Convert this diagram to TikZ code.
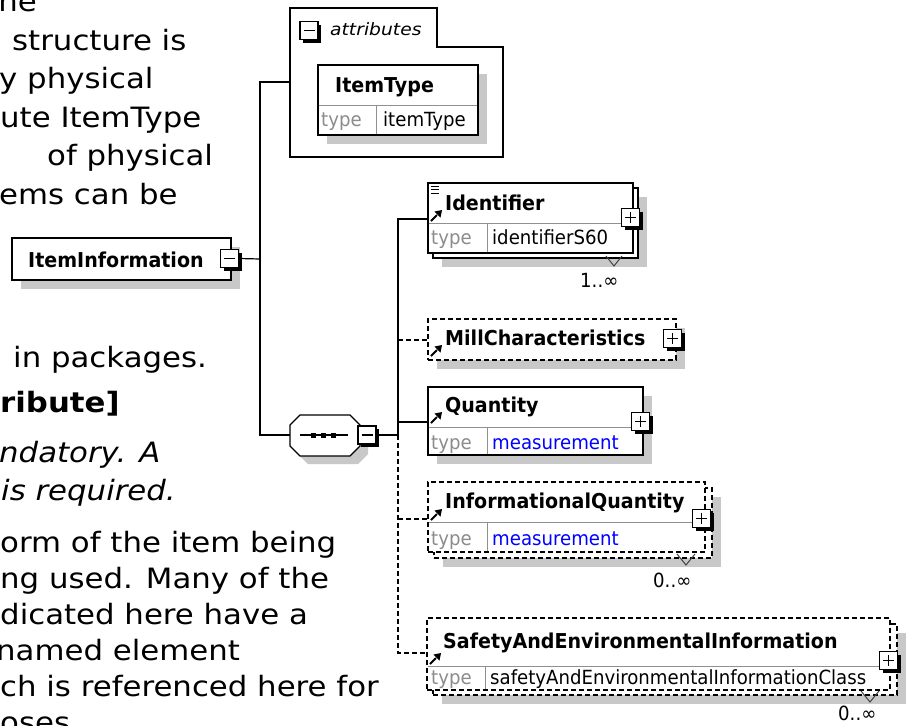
\documentclass[tikz,border=0pt]{standalone}
\usepackage{fontspec}
\setmainfont{DejaVu Sans}
\newfontfamily\pgfnt[FakeStretch=1.1]{DejaVu Sans}
\newfontfamily\dgfnt[FakeStretch=0.93]{DejaVu Sans}
\usetikzlibrary{shadows}
\definecolor{shd}{HTML}{C8C8C8}
\definecolor{typegray}{HTML}{8C8C8C}
\definecolor{divgray}{HTML}{909090}
\definecolor{mblue}{HTML}{0000FF}
\tikzset{
  pagetxt/.style={anchor=base west, inner sep=0pt, font=\pgfnt\fontsize{28}{34}\selectfont},
  pagebold/.style={pagetxt, font=\pgfnt\bfseries\fontsize{28}{34}\selectfont},
  pageit/.style={pagetxt, font=\pgfnt\itshape\fontsize{28}{34}\selectfont},
  hd/.style={anchor=base west, inner sep=0pt, font=\dgfnt\bfseries\fontsize{20.5}{24}\selectfont},
  tv/.style={anchor=base west, inner sep=0pt, font=\dgfnt\fontsize{19.5}{23}\selectfont},
  tl/.style={tv, text=typegray},
  tb/.style={tv, text=mblue},
  ebox/.style={draw=black, line width=1.2pt, fill=white, anchor=north west, inner sep=0pt, outer sep=0pt},
  eshd/.style={general shadow={fill=shd, draw=none, shadow xshift=9pt, shadow yshift=-9pt}},
  dsh/.style={dash pattern=on 5pt off 3pt},
  conn/.style={draw=black, line width=1.2pt},
  divl/.style={draw=divgray, line width=0.9pt},
  vmark/.style={draw=black!75, line width=1pt},
  pmbox/.style={draw=black, line width=1.1pt, fill=white, minimum size=18pt, inner sep=0pt,
    general shadow={fill=black, draw=none, shadow xshift=3pt, shadow yshift=-3pt}},
  pmminus/.style={pmbox, path picture={\draw[line width=1.5pt] ([xshift=3.5pt]path picture bounding box.west) -- ([xshift=-3.5pt]path picture bounding box.east);}},
  pmplus/.style={pmbox, path picture={\draw[line width=1.5pt] ([xshift=3.5pt]path picture bounding box.west) -- ([xshift=-3.5pt]path picture bounding box.east); \draw[line width=1.5pt] ([yshift=-3.5pt]path picture bounding box.north) -- ([yshift=3.5pt]path picture bounding box.south);}},
  refarrow/.pic={\draw[line width=2pt] (0,0) -- (6,-6); \fill (11,-11) -- (3.5,-9.5) -- (9.5,-3.5) -- cycle;},
}
\begin{document}
\begin{tikzpicture}[x=1pt,y=-1pt]
\useasboundingbox (0,0) rectangle (922,726);
\clip (0,0) rectangle (922,726);
\fill[white] (0,0) rectangle (922,726);

% ---------- page text behind the diagram ----------
\node[pagetxt, anchor=base east] (t1) at (37,11.5) {the};
\node[pagetxt] (t2) at (12,50) {structure is};
\node[pagetxt] (t3) at (-1,88.5) {y physical};
\node[pagetxt] (t4) at (0,127) {ute ItemType};
\node[pagetxt] (t5) at (47,165.5) {of physical};
\node[pagetxt] (t6) at (-1,204) {ems can be};
\node[pagetxt] (t7) at (13,367) {in packages.};
\node[pagebold] (t8) at (0,412) {ribute]};
\node[pageit] (t9) at (-1,462) {ndatory. A};
\node[pageit] (t10) at (1,500) {is required.};
\node[pagetxt] (t11) at (0,552) {orm of the item being};
\node[pagetxt] (t12) at (0,588) {ng used. Many of the};
\node[pagetxt] (t13) at (0,624) {dicated here have a};
\node[pagetxt] (t14) at (-4,660) {named element};
\node[pagetxt] (t15) at (0,696) {ch is referenced here for};
\node[pagetxt] (t16) at (0,732) {oses};

% ---------- connector junctions ----------
\coordinate (jA) at (260,259);
\coordinate (jAtop) at (260,82);
\coordinate (jAbot) at (260,435);
\coordinate (attrL) at (290,82);
\coordinate (seqL) at (290,435);
\coordinate (jB) at (398,435);
\coordinate (idin) at (428,219);
\coordinate (mcin) at (428,340);
\coordinate (qtin) at (428,422);
\coordinate (iqin) at (428,519);
\coordinate (sfin) at (427,653);

% ---------- ItemInformation ----------
\node[ebox, eshd, minimum width=219pt, minimum height=42pt] (iibox) at (12,238) {};
\node[hd] (iitxt) at (28,267) {ItemInformation};
\node[pmminus] (iiminus) at (229.5,258.5) {};

% connectors from ItemInformation
\draw[conn] (iiminus.east) -- (jA);
\draw[conn] (attrL) -- (jAtop) -- (jAbot) -- (seqL);

% ---------- attributes group ----------
\draw[conn, fill=white] (290,157) -- (290,8) -- (437,8) -- (437,47) -- (503,47) -- (503,157) -- cycle;
\node[pmminus] (attrminus) at (309,30.5) {};
\node[anchor=base west, inner sep=0pt, font=\pgfnt\itshape\fontsize{17}{20}\selectfont] (attrtxt) at (330,35) {attributes};
\node[ebox, eshd, minimum width=160pt, minimum height=70pt] (itbox) at (318,65) {};
\draw[divl] (318.6,105) -- (477.4,105);
\draw[divl] (376,105) -- (376,134.4);
\node[hd] (ittxt) at (335,92) {ItemType};
\node[tl] (ittype) at (321,126) {type};
\node[tv] (itval) at (383,126) {itemType};

% ---------- sequence compositor ----------
\fill[shd] (298,433) -- (308,423) -- (358,423) -- (368,433) -- (368,454) -- (358,464) -- (308,464) -- (298,454) -- cycle;
\draw[conn, fill=white] (290,425) -- (300,415) -- (350,415) -- (360,425) -- (360,446) -- (350,456) -- (300,456) -- (290,446) -- cycle;
\draw[line width=1.2pt] (300,435) -- (348,435);
\fill (310.5,432.5) rectangle (315.5,437.5);
\fill (320.5,432.5) rectangle (325.5,437.5);
\fill (330.5,432.5) rectangle (335.5,437.5);
\node[pmminus] (seqminus) at (367,435) {};

% ---------- connectors to children ----------
\draw[conn] (seqminus.east) -- (jB);
\draw[conn] (jB) -- (jB |- idin) -- (idin);
\draw[conn, dsh] (jB) -- (jB |- sfin) -- (sfin);
\draw[conn, dsh] (jB |- mcin) -- (mcin);
\draw[conn] (jB |- qtin) -- (qtin);
\draw[conn, dsh] (jB |- iqin) -- (iqin);

% ---------- Identifier ----------
\node[ebox, eshd, minimum width=205pt, minimum height=70pt] (idback) at (433,188) {};
\node[ebox, minimum width=205pt, minimum height=70pt] (idbox) at (428,183) {};
\draw[divl] (428.6,223) -- (632.4,223);
\draw[divl] (487,223) -- (487,252.4);
\draw[line width=0.8pt] (431,186) -- (439,186) (431,189.5) -- (439,189.5) (431,193) -- (439,193);
\pic at (431,221) {refarrow};
\node[hd] (idtxt) at (445,210) {Identifier};
\node[tl] (idtype) at (431,244) {type};
\node[tv] (idval) at (492,244) {identifierS60};
\node[pmplus] (idplus) at (630.5,217.5) {};
\draw[vmark] (606,256) -- (614,266) -- (622,256);
\node[tv] (idcard) at (580,287) {1..∞};

% ---------- MillCharacteristics ----------
\node[ebox, eshd, dsh, minimum width=248pt, minimum height=41pt] (mcbox) at (428,319) {};
\pic at (431,356) {refarrow};
\node[hd] (mctxt) at (445,345) {MillCharacteristics};
\node[pmplus] (mcplus) at (672.5,338.5) {};

% ---------- Quantity ----------
\node[ebox, eshd, minimum width=215pt, minimum height=68pt] (qtbox) at (428,387) {};
\draw[divl] (428.6,427) -- (642.4,427);
\draw[divl] (487,427) -- (487,454.4);
\pic at (431,423) {refarrow};
\node[hd] (qttxt) at (445,412) {Quantity};
\node[tl] (qttype) at (431,449) {type};
\node[tb] (qtval) at (492,449) {measurement};
\node[pmplus] (qtplus) at (640.5,421.5) {};

% ---------- InformationalQuantity ----------
\node[ebox, eshd, dsh, minimum width=278pt, minimum height=70pt] (iqback) at (434,488) {};
\node[ebox, dsh, minimum width=277pt, minimum height=70pt] (iqbox) at (428,482) {};
\draw[divl] (428.6,522) -- (704.4,522);
\draw[divl] (487,522) -- (487,551.4);
\pic at (431,520) {refarrow};
\node[hd] (iqtxt) at (445,508) {InformationalQuantity};
\node[tl] (iqtype) at (431,545) {type};
\node[tb] (iqval) at (492,545) {measurement};
\node[pmplus] (iqplus) at (701.5,518.5) {};
\draw[vmark] (677,554) -- (686,565) -- (695,554);
\node[tv] (iqcard) at (653,587) {0..∞};

% ---------- SafetyAndEnvironmentalInformation ----------
\node[ebox, eshd, dsh, minimum width=464pt, minimum height=71pt] (sfback) at (433,624) {};
\node[ebox, dsh, minimum width=463pt, minimum height=72pt] (sfbox) at (427,618) {};
\draw[divl] (427.6,666) -- (889.4,666);
\draw[divl] (485,666) -- (485,689.4);
\pic at (430,664) {refarrow};
\node[hd] (sftxt) at (443,648) {SafetyAndEnvironmentalInformation};
\node[tl] (sftype) at (431,684) {type};
\node[tv] (sfval) at (490,684) {safetyAndEnvironmentalInformationClass};
\node[pmplus] (sfplus) at (888.5,660.5) {};
\draw[vmark] (861,691) -- (870,702) -- (879,691);
\node[tv] (sfcard) at (838,720) {0..∞};
\end{tikzpicture}
\end{document}
